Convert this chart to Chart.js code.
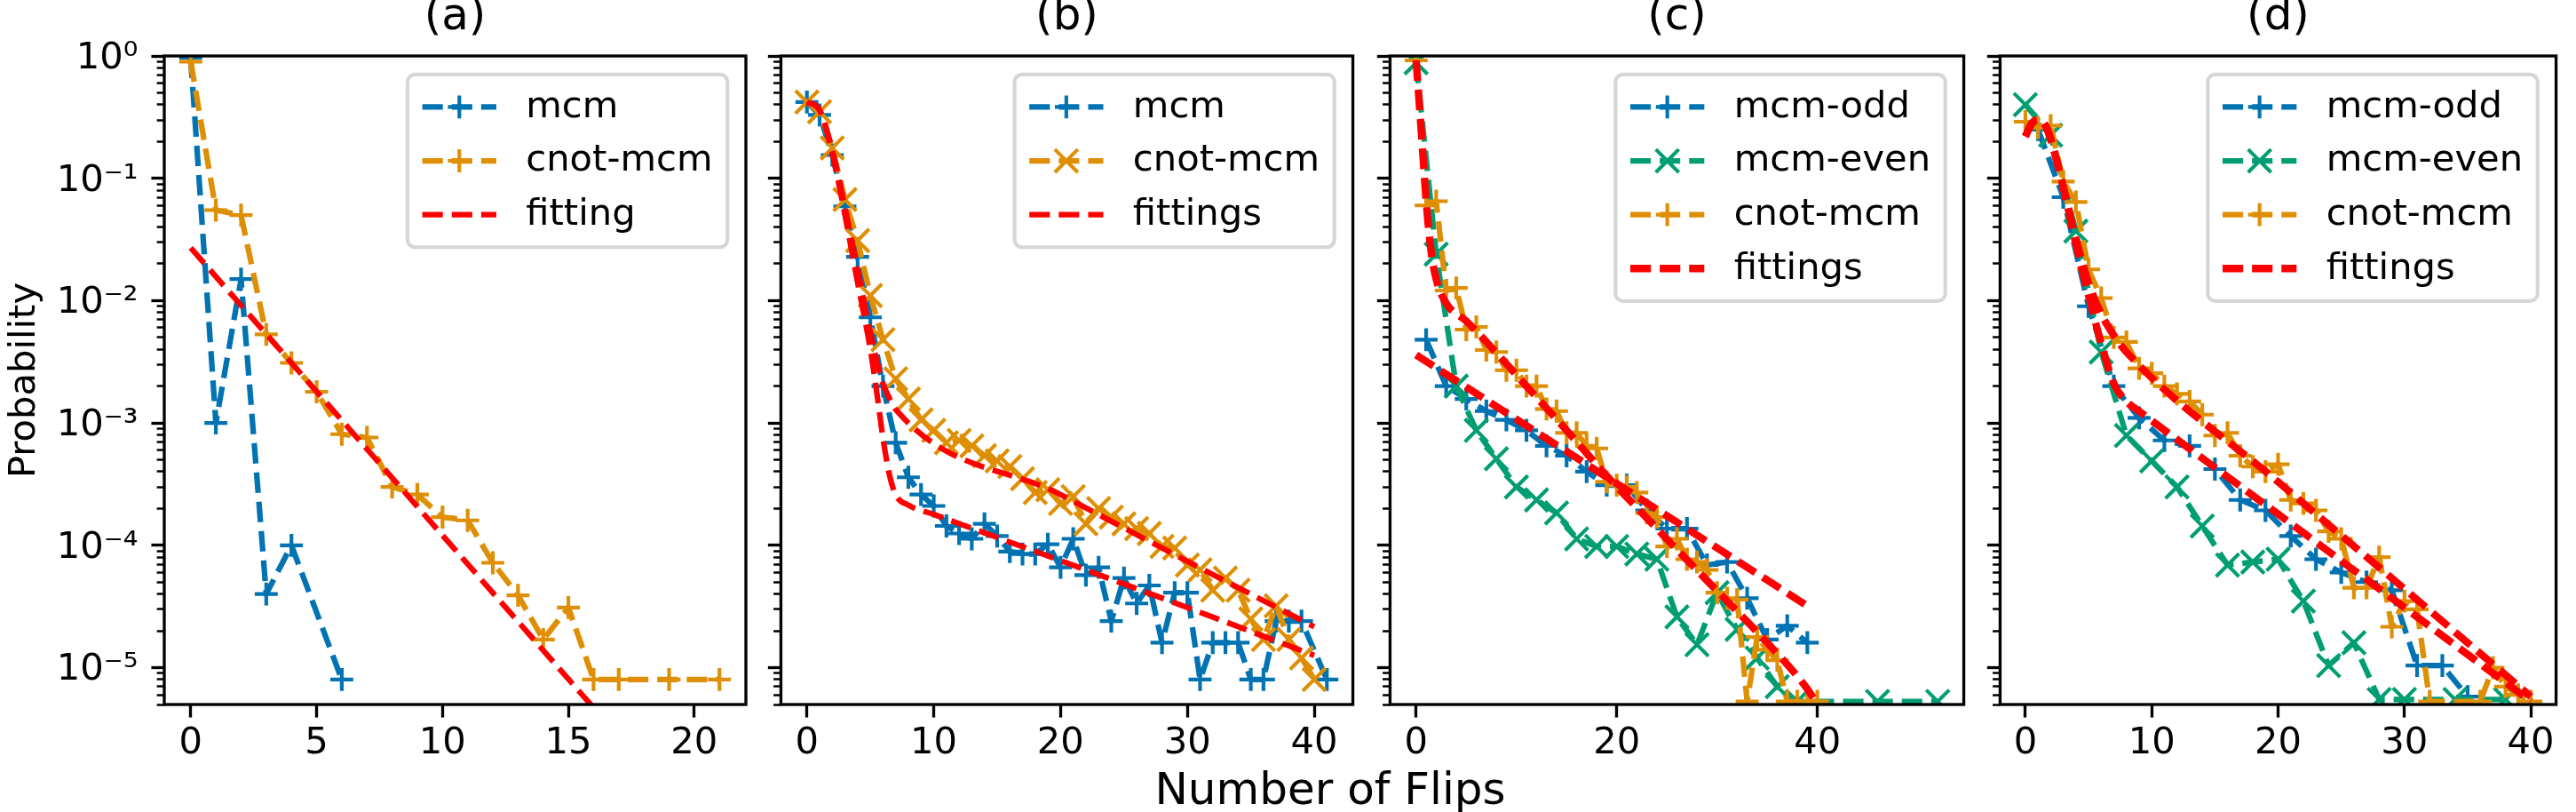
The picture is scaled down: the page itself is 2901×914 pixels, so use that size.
<!DOCTYPE html>
<html>
<head>
<meta charset="utf-8">
<script src="https://cdn.jsdelivr.net/npm/chart.js@4.4.1/dist/chart.umd.min.js"></script>
<style>
  body { margin: 0; background: #fff; width: 2901px; height: 914px; overflow: hidden; position: relative; }
  canvas { position: absolute; top: 0; }
  #xlabel { position: absolute; left: 1248px; width: 500px; top: 859px; line-height: 50px; text-align: center;
            font: 50px 'DejaVu Sans'; color: #000; white-space: nowrap; }
</style>
</head>
<body>
<canvas id="pa"></canvas>
<canvas id="pb"></canvas>
<canvas id="pc"></canvas>
<canvas id="pd"></canvas>
<div id="xlabel">Number of Flips</div>
<script>
// ---- data ----
// (a)
const aMcmX = [0, 1, 2, 3, 4, 6]
const aMcmY = [0.97, 1.0e-3, 1.5e-2, 4.0e-5, 1.0e-4, 8.0e-6]
const aCnotX = [0, 1, 2, 3, 4, 5, 6, 7, 8, 9, 10, 11, 12, 13, 14, 15, 16, 17, 19, 21]
const aCnotY = [0.90, 0.055, 0.050, 5.3e-3, 3.1e-3, 1.8e-3, 8.1e-4, 7.6e-4, 3.0e-4, 2.6e-4,
  1.7e-4, 1.6e-4, 7.2e-5, 3.9e-5, 1.7e-5, 3.1e-5, 8e-6, 8e-6, 8e-6, 8e-6]
const aFitX = [0, 16]
const aFitY = [0.027, 4.7e-6]

// (b)
const bMcmX = [0, 1, 2, 3, 4, 5, 6, 7, 8, 9, 10, 11, 12, 13, 14, 15, 16, 17, 18, 19, 20,
  21, 22, 23, 24, 25, 26, 27, 28, 29, 30, 31, 32, 33, 34, 35, 36, 37, 38, 39, 41]
const bMcmY = [0.42, 0.33, 0.155, 0.059, 0.0228, 7.3e-3, 2.0e-3, 6.9e-4, 3.6e-4, 2.6e-4, 2.1e-4,
  1.44e-4, 1.25e-4, 1.13e-4, 1.5e-4, 1.19e-4, 8.9e-5, 8.5e-5, 8.5e-5, 1.02e-4, 6.6e-5,
  1.13e-4, 5.7e-5, 6.6e-5, 2.4e-5, 5.4e-5, 3.35e-5, 4.7e-5, 1.6e-5, 4.1e-5, 4.1e-5,
  8e-6, 1.6e-5, 1.6e-5, 1.6e-5, 8e-6, 8e-6, 2.4e-5, 2.4e-5, 2.4e-5, 8e-6]
const bCnotX = [0, 1, 2, 3, 4, 5, 6, 7, 8, 9, 10, 11, 12, 13, 14, 15, 16, 17, 18, 19, 20,
  21, 22, 23, 24, 25, 26, 27, 28, 29, 30, 31, 32, 33, 34, 35, 36, 37, 38, 39, 40]
const bCnotY = [0.42, 0.35, 0.177, 0.067, 0.031, 0.011, 4.8e-3, 2.3e-3, 1.57e-3, 1.06e-3, 8.7e-4,
  6.9e-4, 7.2e-4, 6.5e-4, 5.4e-4, 4.9e-4, 4.4e-4, 3.5e-4, 2.7e-4, 2.85e-4, 2.2e-4,
  2.5e-4, 1.5e-4, 2.0e-4, 1.7e-4, 1.5e-4, 1.37e-4, 1.25e-4, 9.8e-5, 9.5e-5, 6.9e-5,
  6.3e-5, 4.3e-5, 5.4e-5, 4.3e-5, 2.5e-5, 1.7e-5, 3.2e-5, 1.7e-5, 1.2e-5, 8e-6]
const bFit1X = [0, 1, 2, 3, 4, 5, 6, 6.5, 7, 20, 30, 40]
const bFit1Y = [0.42, 0.36, 0.17, 0.058, 0.018, 5.5e-3, 2.1e-3, 1.6e-3, 1.29e-3, 2.6e-4, 7.4e-5, 2.16e-5]
const bFit2X = [0, 1, 2, 3, 4, 5, 5.5, 6, 6.5, 7, 8, 10, 20, 30, 40]
const bFit2Y = [0.42, 0.36, 0.16, 0.05, 0.014, 4.0e-3, 1.8e-3, 7.5e-4, 3.8e-4, 2.6e-4, 2.13e-4, 1.79e-4, 7.5e-5, 3.1e-5, 1.26e-5]

// (c)
const cOddX = [1, 3, 5, 7, 9, 11, 13, 15, 17, 19, 21, 23, 25, 27, 29, 31, 33, 35, 37, 39]
const cOddY = [4.8e-3, 2.0e-3, 1.57e-3, 1.25e-3, 1.06e-3, 8.7e-4, 6.5e-4, 5.4e-4, 4.0e-4, 3.1e-4,
  3.1e-4, 1.93e-4, 1.37e-4, 1.37e-4, 6.9e-5, 7.3e-5, 3.7e-5, 1.7e-5, 2.2e-5, 1.6e-5]
const cEvenX = [0, 2, 4, 6, 8, 10, 12, 14, 16, 18, 20, 22, 24, 26, 28, 30, 32, 34, 36, 38, 46, 52]
const cEvenY = [0.88, 0.024, 2.0e-3, 8.7e-4, 5.1e-4, 3.0e-4, 2.35e-4, 1.84e-4, 1.13e-4, 9.8e-5, 9.8e-5,
  8.5e-5, 7.7e-5, 2.6e-5, 1.54e-5, 4.1e-5, 2.06e-5, 1.2e-5, 7e-6, 5.3e-6, 5.3e-6, 5.3e-6]
const cCnotX = [0, 1, 2, 3, 4, 5, 6, 7, 8, 9, 10, 11, 12, 13, 14, 15, 16, 17, 18, 19, 20,
  21, 22, 23, 24, 25, 26, 27, 28, 29, 30, 31, 32, 33, 34, 35, 36, 37, 38, 39, 40]
const cCnotY = [0.92, 0.060, 0.065, 0.0121, 0.0127, 5.8e-3, 6.1e-3, 3.95e-3, 3.8e-3, 2.7e-3, 2.7e-3,
  2.0e-3, 2.0e-3, 1.3e-3, 1.25e-3, 8.3e-4, 8.3e-4, 6.5e-4, 6.2e-4, 3.3e-4, 3.1e-4,
  3.0e-4, 2.7e-4, 1.84e-4, 1.7e-4, 9.8e-5, 1.13e-4, 7.7e-5, 7.3e-5, 6.3e-5, 4.1e-5,
  3.7e-5, 3.6e-5, 5.3e-6, 1.78e-5, 1.4e-5, 1.15e-5, 5.3e-6, 5.3e-6, 5.3e-6, 5.3e-6]
const cFit1X = [0, 0.5, 1, 1.5, 2, 3, 5, 7, 11, 15, 19, 23, 27, 31, 35, 39, 40]
const cFit1Y = [0.92, 0.25, 0.065, 0.025, 0.015, 9.5e-3, 6.8e-3, 4.6e-3, 2.0e-3, 8.7e-4, 3.7e-4,
  1.67e-4, 7.6e-5, 3.5e-5, 1.6e-5, 6.7e-6, 5.0e-6]
const cFit2X = [0, 39]
const cFit2Y = [3.6e-3, 3.2e-5]

// (d)
const dOddX = [1, 3, 5, 7, 9, 11, 13, 15, 17, 19, 21, 23, 25, 27, 29, 31, 33, 35]
const dOddY = [0.25, 0.07, 9.0e-3, 2.0e-3, 1.1e-3, 7.2e-4, 6.5e-4, 4.2e-4, 2.35e-4, 1.93e-4,
  1.19e-4, 7.7e-5, 6.0e-5, 5.0e-5, 4.3e-5, 1.04e-5, 1.04e-5, 5.8e-6]
const dEvenX = [0, 2, 4, 6, 8, 10, 12, 14, 16, 18, 20, 22, 24, 26, 28, 30, 34, 38]
const dEvenY = [0.40, 0.225, 0.037, 3.8e-3, 7.9e-4, 4.9e-4, 3.0e-4, 1.44e-4, 6.9e-5, 7.3e-5,
  7.7e-5, 3.5e-5, 1.04e-5, 1.6e-5, 5.5e-6, 5.5e-6, 5.5e-6, 5.5e-6]
const dCnotX = [0, 1, 2, 3, 4, 5, 6, 7, 8, 9, 10, 11, 12, 13, 14, 15, 16, 17, 18, 19, 20,
  21, 22, 23, 24, 25, 26, 27, 28, 29, 30, 31, 32, 36, 37, 38, 39, 40]
const dCnotY = [0.29, 0.26, 0.27, 0.094, 0.064, 0.018, 0.0105, 5.0e-3, 4.6e-3, 2.8e-3, 2.55e-3,
  2.0e-3, 1.73e-3, 1.5e-3, 1.17e-3, 7.9e-4, 8.3e-4, 5.4e-4, 4.4e-4, 4.0e-4, 4.6e-4,
  2.35e-4, 2.2e-4, 1.93e-4, 1.3e-4, 1.13e-4, 4.5e-5, 4.5e-5, 8.0e-5, 2.16e-5, 3.5e-5,
  3.0e-5, 5.3e-6, 5.3e-6, 1.0e-5, 7e-6, 6e-6, 5.3e-6]
const dFit1X = [0, 0.5, 1, 1.5, 2, 3, 4, 5, 6, 7, 8, 20, 30, 40]
const dFit1Y = [0.22, 0.28, 0.30, 0.28, 0.21, 0.085, 0.032, 0.014, 7.8e-3, 5.2e-3, 3.8e-3, 3.3e-4, 4.4e-5, 5.8e-6]
const dFit2X = [0, 0.5, 1, 1.5, 2, 3, 4, 5, 6, 7, 8, 9, 20, 30, 40]
const dFit2Y = [0.22, 0.28, 0.30, 0.28, 0.21, 0.085, 0.029, 0.011, 4.5e-3, 2.1e-3, 1.5e-3, 1.25e-3, 1.8e-4, 3.1e-5, 5.3e-6]

// axis ticks
const aTicks = [0, 5, 10, 15, 20]
const bTicks = [0, 10, 20, 30, 40]
const cTicks = [0, 20, 40]
const dTicks = [0, 10, 20, 30, 40]
const yMajorLabels = ['10⁰', '10⁻¹', '10⁻²', '10⁻³', '10⁻⁴', '10⁻⁵']

// ---- styling ----
const PT = 300 / 72
const FS = 10 * PT
const BLUE = '#0173b2'
const ORANGE = '#de8f05'
const GREEN = '#029e73'
const RED = '#ff0000'
const Y_MIN = 5e-6
const Y_MAX = 1

Chart.defaults.font.family = "'DejaVu Sans'"

const yTicks = []
for (let e = -6; e <= 0; e++) {
  for (let m = 1; m <= 9; m++) {
    const v = m * Math.pow(10, e)
    if (v >= Y_MIN * 0.999999 && v <= Y_MAX * 1.000001) yTicks.push(v)
  }
}
const isDecade = v => Math.abs(Math.log10(v) - Math.round(Math.log10(v))) < 1e-6

const pts = (xs, ys) => xs.map((x, i) => ({ x, y: ys[i] }))
const DASH = [3.7 * 1.5 * PT, 1.6 * 1.5 * PT]

const series = (label, xs, ys, color, marker) => ({
  label,
  data: pts(xs, ys),
  borderColor: color,
  backgroundColor: color,
  borderWidth: 1.5 * PT,
  borderDash: DASH,
  borderJoinStyle: 'round',
  pointStyle: marker === '+' ? 'cross' : 'crossRot',
  pointRadius: marker === '+' ? 3.1 * PT : 3.1 * PT * Math.SQRT2,
  pointBorderWidth: PT,
  pointBorderColor: color,
  pointHoverRadius: 0,
  marker,
  clip: 0,
  fill: false
})

const fit = (label, xs, ys, lw) => ({
  label,
  data: pts(xs, ys),
  borderColor: RED,
  backgroundColor: RED,
  borderWidth: (lw || 1.5) * PT,
  borderDash: DASH,
  borderJoinStyle: 'round',
  cubicInterpolationMode: 'monotone',
  pointRadius: 0,
  marker: null,
  clip: 0,
  fill: false
})

// spines + matplotlib style legend box
const frameLegend = {
  id: 'frameLegend',
  afterDraw(chart) {
    const { ctx, chartArea: a } = chart
    ctx.save()
    ctx.strokeStyle = '#000'
    ctx.lineWidth = 0.8 * PT
    ctx.strokeRect(a.left, a.top, a.right - a.left, a.bottom - a.top)

    const items = chart.data.datasets.filter(d => d.label)
    ctx.font = FS + "px 'DejaVu Sans'"
    const textW = Math.max(...items.map(d => ctx.measureText(d.label).width))
    const pad = 0.4 * FS, hl = 2 * FS, htp = 0.8 * FS, rowH = 0.955 * FS, sp = 0.5 * FS
    const w = pad * 2 + hl + htp + textW
    const h = pad * 2 + items.length * rowH + (items.length - 1) * sp
    const right = a.right - 0.5 * FS
    const top = a.top + 0.5 * FS
    const left = right - w
    ctx.beginPath()
    ctx.roundRect(left, top, w, h, 0.2 * FS)
    ctx.fillStyle = 'rgba(255,255,255,0.8)'
    ctx.fill()
    ctx.strokeStyle = 'rgba(204,204,204,0.8)'
    ctx.lineWidth = PT
    ctx.stroke()

    items.forEach((d, i) => {
      const cy = top + pad + rowH / 2 + i * (rowH + sp)
      const x0 = left + pad
      ctx.strokeStyle = d.borderColor
      ctx.lineWidth = d.borderWidth
      ctx.setLineDash(d.borderDash)
      ctx.beginPath()
      ctx.moveTo(x0, cy)
      ctx.lineTo(x0 + hl, cy)
      ctx.stroke()
      ctx.setLineDash([])
      if (d.marker) {
        const cx = x0 + hl / 2
        const r = 3.1 * PT
        ctx.lineWidth = d.pointBorderWidth
        ctx.beginPath()
        if (d.marker === '+') {
          ctx.moveTo(cx - r, cy); ctx.lineTo(cx + r, cy)
          ctx.moveTo(cx, cy - r); ctx.lineTo(cx, cy + r)
        } else {
          ctx.moveTo(cx - r, cy - r); ctx.lineTo(cx + r, cy + r)
          ctx.moveTo(cx - r, cy + r); ctx.lineTo(cx + r, cy - r)
        }
        ctx.stroke()
      }
      ctx.fillStyle = '#000'
      ctx.textBaseline = 'alphabetic'
      ctx.fillText(d.label, x0 + hl + htp, cy + 0.27 * FS)
    })
    ctx.restore()
  }
}

const makePanel = (id, cfg) => {
  const yw = cfg.first ? cfg.left : 16
  const canvasLeft = cfg.left - yw
  const padRight = Math.min(20, 2901 - cfg.right)
  const canvas = document.getElementById(id)
  canvas.width = cfg.right - canvasLeft + padRight
  canvas.height = 868
  canvas.style.left = canvasLeft + 'px'

  cfg.datasets.forEach((d, i) => { d.order = -i })

  return new Chart(canvas, {
    type: 'line',
    data: { datasets: cfg.datasets },
    options: {
      responsive: false,
      devicePixelRatio: 1,
      animation: false,
      events: [],
      layout: { padding: { left: 0, top: 0, right: padRight, bottom: 0 } },
      plugins: {
        legend: { display: false },
        tooltip: { enabled: false },
        title: {
          display: true,
          text: cfg.title,
          fullSize: false,
          color: '#000',
          font: { size: 12 * PT, weight: 'normal', lineHeight: 0.8 },
          padding: { top: 0, bottom: 63 - 12 * PT * 0.8 }
        }
      },
      scales: {
        x: {
          type: 'linear',
          min: cfg.xmin,
          max: cfg.xmax,
          afterBuildTicks: s => { s.ticks = cfg.xticks.map(v => ({ value: v })) },
          afterFit: s => { s.height = 75 },
          ticks: { autoSkip: false, maxRotation: 0, color: '#000', padding: 5, font: { size: FS } },
          grid: { drawOnChartArea: false, drawTicks: true, tickLength: 3.5 * PT, tickWidth: 0.8 * PT, tickColor: '#000' },
          border: { display: false }
        },
        y: {
          type: 'logarithmic',
          min: Y_MIN,
          max: Y_MAX,
          afterBuildTicks: s => { s.ticks = yTicks.map(v => ({ value: v, major: isDecade(v) })) },
          afterFit: s => { s.width = yw },
          ticks: {
            autoSkip: false,
            color: '#000',
            padding: 15,
            labelOffset: 3,
            font: { size: FS },
            callback: v => {
              if (!cfg.first || !isDecade(v)) return ''
              return yMajorLabels[-Math.round(Math.log10(v))]
            }
          },
          grid: {
            drawOnChartArea: false,
            drawTicks: true,
            tickLength: 3.5 * PT,
            tickColor: '#000',
            tickWidth: c => (c.tick && c.tick.major ? 0.8 * PT : 0.6 * PT),
            tickBorderDash: c => (c.tick && c.tick.major ? [] : [0, 1.5 * PT, 2 * PT, 200])
          },
          border: { display: false },
          title: {
            display: !!cfg.first,
            text: 'Probability',
            color: '#000',
            font: { size: FS },
            padding: { top: 3, bottom: 0 }
          }
        }
      }
    },
    plugins: [frameLegend]
  })
}

makePanel('pa', {
  first: true, left: 185, right: 840, title: '(a)', xmin: -1.05, xmax: 22.05, xticks: aTicks,
  datasets: [
    series('mcm', aMcmX, aMcmY, BLUE, '+'),
    series('cnot-mcm', aCnotX, aCnotY, ORANGE, '+'),
    fit('fitting', aFitX, aFitY)
  ]
})

makePanel('pb', {
  left: 873, right: 1526, title: '(b)', xmin: -2.05, xmax: 43.05, xticks: bTicks,
  datasets: [
    series('mcm', bMcmX, bMcmY, BLUE, '+'),
    series('cnot-mcm', bCnotX, bCnotY, ORANGE, 'x'),
    fit('fittings', bFit1X, bFit1Y),
    fit('', bFit2X, bFit2Y)
  ]
})

makePanel('pc', {
  left: 1559, right: 2214, title: '(c)', xmin: -2.6, xmax: 54.6, xticks: cTicks,
  datasets: [
    series('mcm-odd', cOddX, cOddY, BLUE, '+'),
    series('mcm-even', cEvenX, cEvenY, GREEN, 'x'),
    series('cnot-mcm', cCnotX, cCnotY, ORANGE, '+'),
    fit('fittings', cFit1X, cFit1Y, 2),
    fit('', cFit2X, cFit2Y, 2)
  ]
})

makePanel('pd', {
  left: 2246, right: 2898, title: '(d)', xmin: -2, xmax: 42, xticks: dTicks,
  datasets: [
    series('mcm-odd', dOddX, dOddY, BLUE, '+'),
    series('mcm-even', dEvenX, dEvenY, GREEN, 'x'),
    series('cnot-mcm', dCnotX, dCnotY, ORANGE, '+'),
    fit('fittings', dFit1X, dFit1Y, 2),
    fit('', dFit2X, dFit2Y, 2)
  ]
})
</script>
</body>
</html>
